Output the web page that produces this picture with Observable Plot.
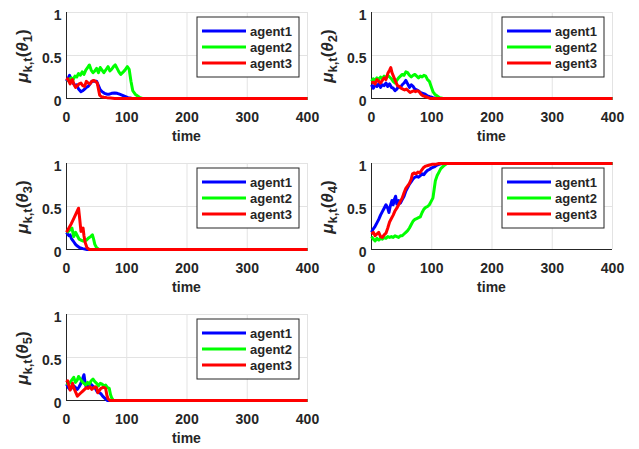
<!DOCTYPE html>
<html><head><meta charset="utf-8">
<script src="https://cdn.jsdelivr.net/npm/d3@7"></script>
<script src="https://cdn.jsdelivr.net/npm/@observablehq/plot@0.6"></script>
<style>
body{margin:0;background:#fff;overflow:hidden;}
#fig{position:relative;width:639px;height:449px;font-family:"Liberation Sans",Arial,Helvetica,sans-serif;}
#fig svg{position:absolute;overflow:visible;}
</style></head><body><div id="fig"></div>
<script>
const agents = ["agent1","agent2","agent3"];
const colors = ["#0000ff","#00ff00","#ff0000"];
const xTicks = [0,100,200,300,400];
const yTicks = [0,0.5,1];
const xLabel = "time";

// theta 1
const th1_agent1 = [[0,0.2],[3,0.24],[5,0.27],[8,0.22],[11,0.18],[14,0.15],[17,0.16],[20,0.11],[24,0.08],[27,0.09],[30,0.11],[33,0.13],[36,0.14],[39,0.17],[42,0.2],[46,0.2],[50,0.2],[53,0.15],[56,0.1],[59,0.08],[63,0.06],[67,0.05],[71,0.05],[75,0.06],[80,0.065],[84,0.06],[88,0.05],[92,0.04],[97,0.025],[102,0.01],[108,0.003],[115,0],[400,0]];
const th1_agent2 = [[0,0.21],[4,0.22],[8,0.24],[11,0.22],[14,0.26],[17,0.25],[20,0.29],[23,0.27],[26,0.31],[29,0.28],[32,0.33],[35,0.36],[38,0.39],[41,0.33],[44,0.3],[47,0.32],[50,0.35],[53,0.3],[56,0.36],[59,0.33],[62,0.3],[66,0.34],[69,0.37],[72,0.32],[75,0.34],[78,0.37],[81,0.39],[84,0.35],[87,0.31],[90,0.28],[93,0.3],[97,0.33],[101,0.37],[104,0.34],[107,0.2],[110,0.09],[114,0.05],[118,0.03],[122,0.01],[126,0],[400,0]];
const th1_agent3 = [[0,0.21],[2,0.23],[4,0.2],[6,0.17],[8,0.21],[10,0.22],[12,0.17],[15,0.13],[18,0.15],[21,0.17],[24,0.18],[27,0.15],[30,0.14],[33,0.2],[36,0.18],[39,0.17],[42,0.2],[45,0.21],[48,0.2],[51,0.18],[53,0.11],[55,0.04],[58,0.02],[62,0.015],[67,0.01],[73,0.005],[80,0],[400,0]];
// theta 2
const th2_agent1 = [[0,0.16],[3,0.12],[6,0.16],[9,0.14],[12,0.17],[15,0.13],[18,0.16],[21,0.15],[24,0.18],[27,0.14],[30,0.17],[33,0.13],[36,0.12],[39,0.09],[42,0.11],[45,0.14],[48,0.13],[51,0.16],[54,0.18],[57,0.21],[60,0.17],[63,0.13],[66,0.16],[69,0.14],[72,0.11],[75,0.1],[78,0.09],[81,0.07],[85,0.06],[89,0.05],[93,0.03],[97,0.02],[102,0.01],[108,0],[400,0]];
const th2_agent2 = [[0,0.2],[3,0.23],[6,0.21],[9,0.24],[12,0.22],[15,0.25],[18,0.23],[21,0.26],[24,0.24],[27,0.27],[30,0.25],[33,0.23],[36,0.2],[39,0.18],[42,0.21],[45,0.24],[48,0.26],[51,0.28],[54,0.27],[57,0.31],[60,0.3],[63,0.27],[66,0.25],[69,0.27],[72,0.28],[75,0.26],[78,0.24],[81,0.26],[84,0.25],[87,0.27],[90,0.26],[93,0.22],[96,0.2],[99,0.14],[102,0.08],[105,0.05],[109,0.03],[113,0.01],[119,0],[400,0]];
const th2_agent3 = [[0,0.18],[3,0.19],[6,0.17],[9,0.22],[12,0.2],[15,0.18],[18,0.21],[21,0.24],[24,0.22],[27,0.29],[30,0.33],[32,0.36],[34,0.3],[37,0.25],[40,0.2],[43,0.15],[46,0.14],[49,0.12],[52,0.11],[55,0.1],[58,0.11],[61,0.09],[64,0.07],[67,0.08],[70,0.09],[73,0.08],[76,0.09],[79,0.08],[82,0.05],[86,0.03],[90,0.02],[94,0.01],[98,0],[400,0]];
// theta 3
const th3_agent1 = [[0,0.2],[2,0.18],[4,0.16],[6,0.17],[8,0.13],[10,0.11],[12,0.09],[15,0.06],[18,0.04],[22,0.02],[27,0.01],[34,0],[400,0]];
const th3_agent2 = [[0,0.2],[3,0.21],[6,0.23],[9,0.25],[12,0.15],[15,0.2],[18,0.16],[21,0.12],[24,0.11],[27,0.1],[30,0.1],[33,0.11],[36,0.13],[40,0.15],[43,0.17],[45,0.12],[47,0.06],[50,0.02],[54,0],[400,0]];
const th3_agent3 = [[0,0.2],[4,0.25],[8,0.3],[12,0.36],[16,0.42],[20,0.48],[22,0.35],[24,0.21],[26,0.23],[27.5,0.25],[29,0.16],[31,0.08],[34,0.02],[38,0],[400,0]];
// theta 4
const th4_agent1 = [[0,0.2],[3,0.24],[6,0.27],[9,0.31],[12,0.35],[15,0.4],[18,0.44],[21,0.48],[24,0.52],[27,0.48],[29,0.43],[31,0.5],[34,0.57],[36,0.52],[38,0.58],[40,0.62],[42,0.53],[45,0.57],[48,0.54],[51,0.58],[54,0.62],[57,0.68],[60,0.72],[63,0.76],[66,0.79],[69,0.82],[72,0.84],[75,0.85],[78,0.84],[81,0.86],[84,0.88],[87,0.87],[90,0.9],[93,0.92],[96,0.93],[100,0.95],[104,0.96],[108,0.98],[112,0.99],[117,1],[400,1]];
const th4_agent2 = [[0,0.15],[3,0.12],[6,0.1],[9,0.13],[12,0.11],[15,0.13],[18,0.12],[21,0.14],[24,0.13],[27,0.15],[30,0.14],[33,0.15],[36,0.14],[39,0.16],[42,0.15],[45,0.14],[48,0.16],[51,0.16],[54,0.18],[57,0.2],[60,0.22],[63,0.25],[66,0.29],[69,0.33],[72,0.35],[75,0.36],[78,0.37],[81,0.38],[84,0.43],[87,0.47],[90,0.49],[93,0.5],[96,0.52],[99,0.56],[102,0.6],[104,0.7],[106,0.8],[109,0.86],[112,0.9],[115,0.94],[118,0.96],[121,0.98],[125,1],[400,1]];
const th4_agent3 = [[0,0.18],[3,0.2],[6,0.16],[9,0.18],[12,0.2],[15,0.15],[18,0.14],[21,0.17],[24,0.19],[27,0.25],[30,0.32],[33,0.36],[36,0.4],[39,0.45],[42,0.48],[45,0.52],[48,0.56],[51,0.6],[54,0.66],[57,0.71],[60,0.74],[63,0.77],[66,0.82],[68,0.88],[71,0.89],[74,0.88],[77,0.9],[80,0.89],[83,0.92],[86,0.95],[90,0.97],[95,0.98],[100,0.99],[106,0.99],[112,1],[400,1]];
// theta 5
const th5_agent1 = [[0,0.19],[3,0.15],[6,0.13],[9,0.15],[12,0.17],[15,0.15],[18,0.13],[21,0.16],[24,0.2],[27,0.26],[29,0.3],[31,0.2],[33,0.15],[36,0.18],[39,0.2],[42,0.18],[45,0.16],[48,0.14],[51,0.1],[54,0.09],[57,0.08],[60,0.05],[63,0.03],[66,0.01],[68,0],[400,0]];
const th5_agent2 = [[0,0.2],[3,0.19],[6,0.21],[9,0.24],[12,0.27],[15,0.21],[18,0.24],[20,0.28],[23,0.25],[26,0.22],[29,0.2],[32,0.18],[35,0.21],[38,0.19],[41,0.23],[44,0.25],[47,0.22],[50,0.2],[53,0.17],[56,0.2],[59,0.19],[62,0.17],[65,0.18],[68,0.15],[71,0.14],[73,0.07],[75,0.03],[78,0],[400,0]];
const th5_agent3 = [[0,0.21],[2,0.23],[4,0.17],[6,0.12],[8,0.15],[10,0.2],[12,0.15],[15,0.1],[18,0.05],[21,0.07],[24,0.09],[27,0.11],[30,0.13],[33,0.15],[36,0.14],[39,0.16],[42,0.13],[45,0.15],[48,0.16],[50,0.15],[52,0.09],[54,0.11],[57,0.14],[60,0.15],[63,0.15],[65,0.14],[67,0.06],[69,0.02],[72,0],[400,0]];

const panels = [
  {k:"1", series:[th1_agent1,th1_agent2,th1_agent3], left:0,   top:0},
  {k:"2", series:[th2_agent1,th2_agent2,th2_agent3], left:305, top:0},
  {k:"3", series:[th3_agent1,th3_agent2,th3_agent3], left:0,   top:151},
  {k:"4", series:[th4_agent1,th4_agent2,th4_agent3], left:305, top:151},
  {k:"5", series:[th5_agent1,th5_agent2,th5_agent3], left:0,   top:302}
];

const FONT = '"Liberation Sans",Arial,Helvetica,sans-serif';
const INK = "#262626";
const fig = document.getElementById("fig");

for (const p of panels) {
  const data = agents.flatMap((a,i) => p.series[i].map(([t,v]) => ({t, v, agent:a})));
  const svg = Plot.plot({
    width:320, height:150,
    marginLeft:66, marginRight:13, marginTop:12, marginBottom:52,
    style:{fontFamily:FONT, fontSize:"14px", fontWeight:"bold", color:INK, background:"transparent", overflow:"visible"},
    x:{domain:[0,400]},
    y:{domain:[0,1]},
    color:{domain:agents, range:colors},
    marks:[
      Plot.ruleX(xTicks, {stroke:"#e3e3e3", strokeWidth:1}),
      Plot.ruleY(yTicks, {stroke:"#e3e3e3", strokeWidth:1}),
      Plot.ruleX([0], {stroke:INK, strokeWidth:1}),
      Plot.ruleY([0], {stroke:INK, strokeWidth:1}),
      Plot.axisX({ticks:xTicks, tickSize:0, tickPadding:14, label:null, tickFormat:d => String(d)}),
      Plot.axisY({ticks:yTicks, tickSize:0, tickPadding:5, label:null, dy:3, tickFormat:d => String(d)}),
      Plot.line(data, {x:"t", y:"v", z:"agent", stroke:"agent", strokeWidth:3, strokeLinejoin:"round", strokeLinecap:"butt"})
    ]
  });
  svg.style.left = p.left + "px";
  svg.style.top = p.top + "px";
  const s = d3.select(svg);

  // y label
  const yl = s.append("text")
    .attr("transform", "translate(28,56) rotate(-90)")
    .attr("text-anchor","middle").attr("font-size",17).attr("font-weight","bold")
    .attr("fill",INK).attr("font-family",FONT);
  yl.append("tspan").attr("font-style","italic").text("μ");
  yl.append("tspan").attr("font-size",13).attr("dy",4).text("k,t");
  yl.append("tspan").attr("dy",-4).text("(");
  yl.append("tspan").attr("font-style","italic").text("θ");
  yl.append("tspan").attr("font-size",13).attr("dy",4).text(p.k);
  yl.append("tspan").attr("dy",-4).text(")");

  // x label
  s.append("text").attr("x",186.5).attr("y",141).attr("text-anchor","middle")
    .attr("font-size",14).attr("font-weight","bold").attr("fill",INK).attr("font-family",FONT)
    .text(xLabel);

  // legend
  const lg = s.append("g").attr("font-family",FONT).attr("text-anchor","start");
  lg.append("rect").attr("x",197).attr("y",17).attr("width",102).attr("height",60)
    .attr("fill","#fff").attr("stroke",INK).attr("stroke-width",1);
  agents.forEach((a,i) => {
    const yy = 31 + i*16;
    lg.append("line").attr("x1",202).attr("x2",246).attr("y1",yy).attr("y2",yy)
      .attr("stroke",colors[i]).attr("stroke-width",3);
    lg.append("text").attr("x",250).attr("y",yy).attr("dy","0.35em").attr("text-anchor","start")
      .attr("font-size",13).attr("font-weight","bold").attr("fill",INK).text(a);
  });
  fig.appendChild(svg);
}
</script></body></html>
